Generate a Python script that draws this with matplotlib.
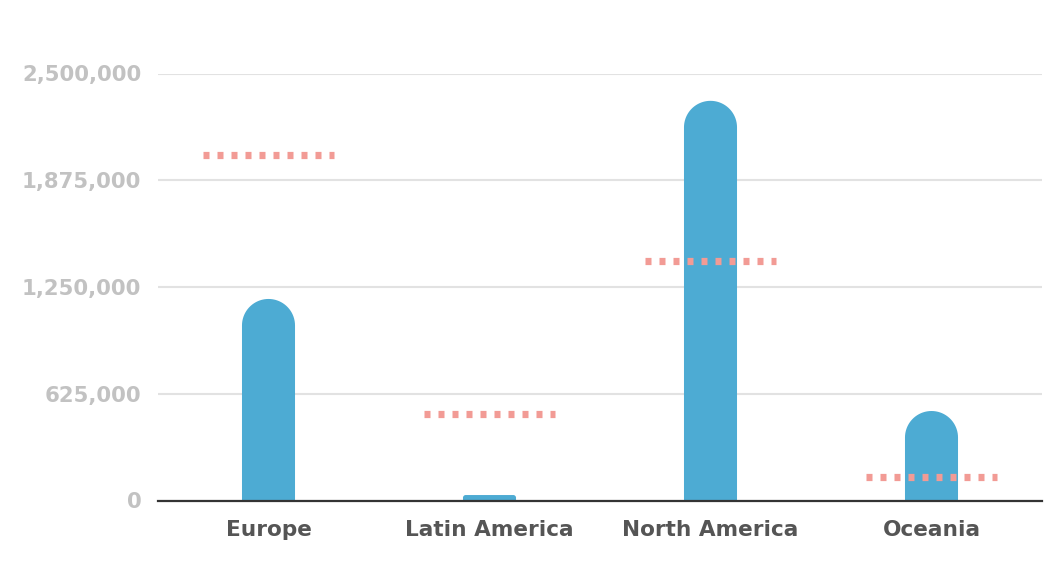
import numpy as np
import matplotlib
matplotlib.use("Agg")
import matplotlib.pyplot as plt
from matplotlib.path import Path
from matplotlib.patches import PathPatch

# data
regions = ["Europe", "Latin America", "North America", "Oceania"]
actual = [1180000, 32000, 2340000, 524000]
target = [2023000, 508000, 1402000, 138000]
yticks = [0, 625000, 1250000, 1875000, 2500000]

BAR_COLOR = "#4dabd3"
DOT_COLOR = "#f29b95"

plt.rcParams["font.family"] = ["DejaVu Sans"]
plt.rcParams["lines.scale_dashes"] = False


def round_top(ax, rect):
    # swap a plain bar for one with a rounded top (radius in pixels)
    x0, y0 = rect.get_x(), rect.get_y()
    w, h = rect.get_width(), rect.get_height()
    inv = ax.transData.inverted()
    p0 = ax.transData.transform((x0, y0))
    p1 = ax.transData.transform((x0 + w, y0 + h))
    w_px, h_px = p1[0] - p0[0], p1[1] - p0[1]
    r_px = min(w_px / 2, h_px / 2)
    dx = (inv.transform((r_px, 0))[0] - inv.transform((0, 0))[0])
    dy = (inv.transform((0, r_px))[1] - inv.transform((0, 0))[1])
    t = np.linspace(np.pi, np.pi / 2, 20)
    left = [(x0 + dx + dx * np.cos(a), y0 + h - dy + dy * np.sin(a)) for a in t]
    t = np.linspace(np.pi / 2, 0, 20)
    right = [(x0 + w - dx + dx * np.cos(a), y0 + h - dy + dy * np.sin(a)) for a in t]
    verts = [(x0, y0)] + left + right + [(x0 + w, y0), (x0, y0)]
    patch = PathPatch(Path(verts, closed=True), facecolor=rect.get_facecolor(),
                      edgecolor="none", zorder=2)
    ax.add_patch(patch)
    rect.remove()


fig = plt.figure(figsize=(10.58, 5.72), dpi=100)
ax = fig.add_axes([158 / 1058, 1 - 500.5 / 572, 884 / 1058, 427 / 572])

x = np.arange(len(regions))
ax.set_xlim(-0.5, len(regions) - 0.5)
ax.set_ylim(0, 2500000)

bars = ax.bar(x, actual, width=0.24, color=BAR_COLOR, zorder=2)
for b in bars:
    round_top(ax, b)

ax.hlines(target, x - 0.2986, x + 0.2986, colors=DOT_COLOR, linewidth=5.2,
          linestyles=(0, (4.32, 5.76)), capstyle="butt", zorder=3)

ax.set_yticks(yticks)
ax.set_yticklabels([f"{v:,}" for v in yticks])
ax.set_xticks(x)
ax.set_xticklabels(regions)
ax.grid(axis="y", color="#e2e2e2", linewidth=1.5, zorder=0)
ax.set_axisbelow(True)

for s in ["top", "right", "left"]:
    ax.spines[s].set_visible(False)
ax.spines["bottom"].set_color("#333333")
ax.spines["bottom"].set_linewidth(1.6)
ax.spines["bottom"].set_zorder(4)

ax.tick_params(axis="y", length=0, pad=12, labelsize=15.3, labelcolor="#c2c2c2")
ax.tick_params(axis="x", length=0, pad=14, labelsize=15.6, labelcolor="#555555")
for lab in ax.get_xticklabels() + ax.get_yticklabels():
    lab.set_fontweight("bold")

fig.savefig("out.png", dpi=100)
